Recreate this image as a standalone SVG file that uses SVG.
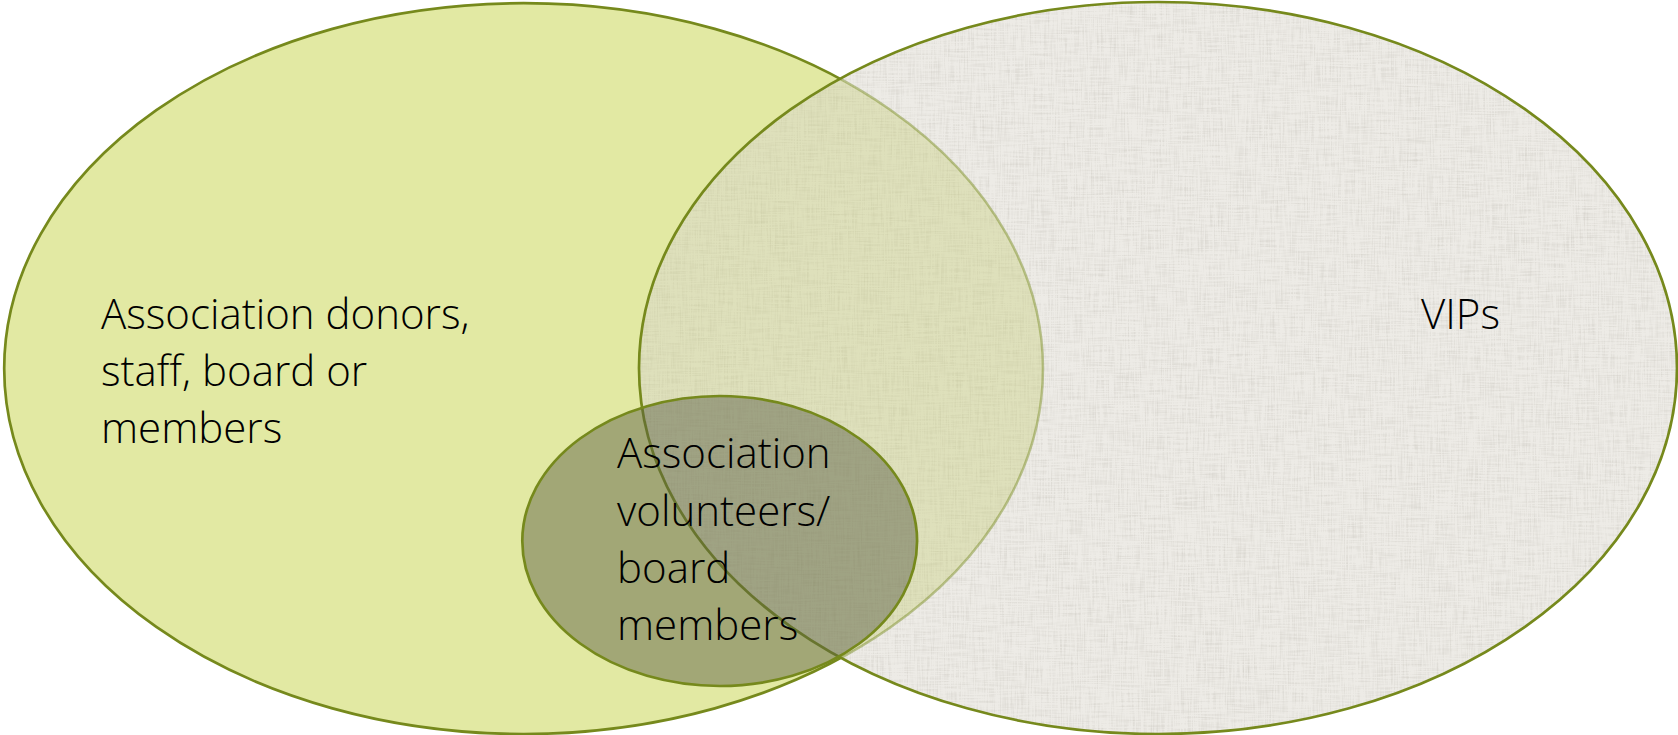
<svg xmlns="http://www.w3.org/2000/svg" width="1678" height="735" viewBox="0 0 1678 735">
  <style>
    .edge { stroke: #76891C; stroke-width: 2.7; }
    .outline { fill: none; }
    .label { font-family: "Open Sans", "Liberation Sans", sans-serif; font-weight: 300; font-size: 42px; fill: #000; }
  </style>
  <defs>
    <ellipse id="shapeA" cx="523.6" cy="368.6" rx="519.4" ry="365.4"/>
    <ellipse id="shapeB" cx="1158" cy="368" rx="519" ry="366"/>
    <clipPath id="clipB"><use href="#shapeB"/></clipPath>
    <!-- woven linen look: horizontal and vertical streak noise -->
    <filter id="linen" x="0" y="0" width="100%" height="100%" color-interpolation-filters="sRGB">
      <feTurbulence type="fractalNoise" baseFrequency="0.7 0.035" numOctaves="2" seed="3" result="h"/>
      <feTurbulence type="fractalNoise" baseFrequency="0.035 0.7" numOctaves="2" seed="7" result="v"/>
      <feComposite in="h" in2="v" operator="arithmetic" k2="0.5" k3="0.5" result="n"/>
      <feColorMatrix in="n" type="matrix" values="0 0 0 0 0.55  0 0 0 0 0.53  0 0 0 0 0.48  0.55 0 0 0 -0.24"/>
    </filter>
  </defs>

  <g id="node-association">
    <use href="#shapeA" fill="#E2E9A3" class="edge"/>
  </g>

  <g id="node-vips">
    <g clip-path="url(#clipB)">
      <rect x="630" y="0" width="1048" height="735" fill="#EDEBE6"/>
      <rect x="630" y="0" width="1048" height="735" fill="#000" filter="url(#linen)"/>
      <!-- tint where the two sets overlap -->
      <use href="#shapeA" fill="#C2CA6A" fill-opacity="0.34"/>
      <use href="#shapeA" fill="none" stroke="#76891C" stroke-width="2.5" stroke-opacity="0.45"/>
    </g>
    <use href="#shapeB" class="edge outline"/>
  </g>

  <g id="node-volunteers">
    <ellipse cx="719.7" cy="541" rx="197.4" ry="145" fill="#5A5E43" fill-opacity="0.47" class="edge"/>
  </g>

  <g id="labels" class="label">
    <text><tspan x="101" y="329">Association donors,</tspan><tspan x="101" y="386">staff, board or</tspan><tspan x="101" y="443">members</tspan></text>
    <text><tspan x="617" y="468">Association</tspan><tspan x="617" y="526">volunteers/</tspan><tspan x="617" y="583">board</tspan><tspan x="617" y="640">members</tspan></text>
    <text x="1421" y="329">VIPs</text>
  </g>
</svg>
